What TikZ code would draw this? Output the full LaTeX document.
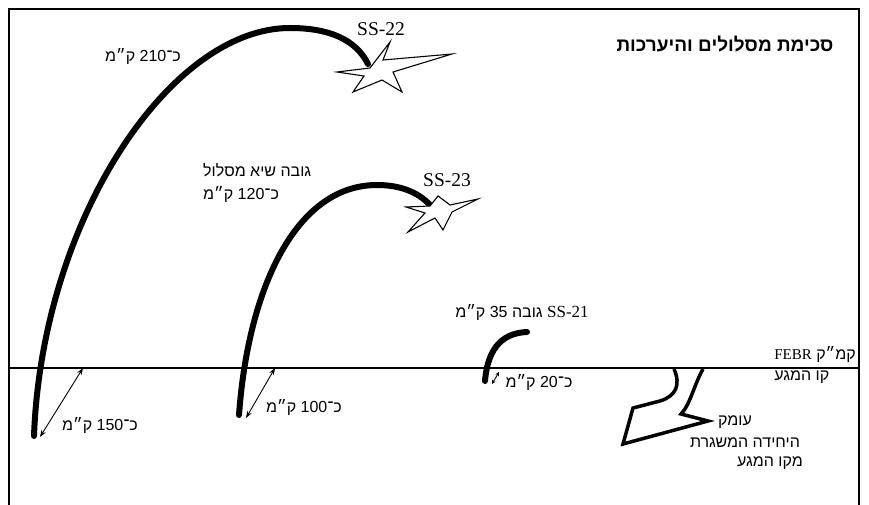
\documentclass[tikz,border=0pt]{standalone}
\usepackage{fontspec}
\setmainfont{Liberation Serif}
\newfontfamily\hebr[Script=Hebrew]{Liberation Sans}
\TeXXeTstate=1
\usetikzlibrary{arrows.meta}

\tikzset{
  bahn/.style={line width=6pt, line cap=round},
  abstand/.style={{Stealth[length=7pt,width=5pt]}-{Stealth[length=7pt,width=5pt]}, line width=0.9pt},
  hebtext/.style={font=\hebr\fontsize{16}{18}\selectfont, inner sep=0pt},
  lattext/.style={font=\fontsize{19.5}{22}\selectfont, inner sep=0pt},
  stern/.style={line width=1.1pt, fill=white},
}

\begin{document}
\begin{tikzpicture}[x=1pt,y=-1pt]
	\useasboundingbox (0,0) rectangle (869,505);
	
	% ----- Rahmen -----
	\draw[line width=1.5pt] (9,505) -- (9,9) -- (859,9) -- (859,505);
	
	% Kontaktlinie
	\coordinate (linie links) at (9,368);
	\coordinate (linie rechts) at (859,368);
	\draw[line width=1.3pt] (linie links) -- (linie rechts);
	
	% Titel
	\node[hebtext, font=\hebr\bfseries\fontsize{19}{21}\selectfont] (titel) at (725,44) {\beginR סכימת מסלולים והיערכות\endR};
	
	% ----- SS-22 -----
	\coordinate (s22 start) at (34,436);
	\coordinate (s22 ende) at (368,64);
	\draw[bahn] (s22 start) .. controls (42,220) and (170,28) .. (290,28) .. controls (330,28) and (356,40) .. (s22 ende);
	\draw[stern] (390,42) -- (383,60) -- (452,54) -- (393,72) -- (402,92) -- (382,80) -- (353,92) -- (364,76) -- (337,72) -- (370,68) -- cycle;
	\node[lattext] (ss22) at (381,29) {SS-22};
	\node[hebtext] (hoehe22) at (143,57) {\beginR כ־210 ק״מ\endR};
	
	% Abstand 150
	\coordinate (a150 unten) at (40,437);
	\coordinate (a150 oben) at (83,368);
	\draw[abstand] (a150 unten) -- (a150 oben);
	\node[hebtext] (weite150) at (100,425) {\beginR כ־150 ק״מ\endR};
	
	% ----- SS-23 -----
	\coordinate (s23 start) at (239,415);
	\coordinate (s23 ende) at (430,205);
	\draw[bahn] (s23 start) .. controls (248,290) and (295,185) .. (377,185) .. controls (400,185) and (418,192) .. (s23 ende);
	\draw[stern] (438,196) -- (450,205) -- (478,199) -- (452,212) -- (443,230) -- (435,218) -- (408,232) -- (425,213) -- (406,207) -- (430,206) -- cycle;
	\node[lattext] (ss23) at (447,180) {SS-23};
	\node[hebtext, anchor=west] (scheitel) at (203,170) {\beginR גובה שיא מסלול\endR};
	\node[hebtext, anchor=west] (hoehe23) at (203,195) {\beginR כ־120 ק״מ\endR};
	
	% Abstand 100
	\coordinate (a100 unten) at (246,418);
	\coordinate (a100 oben) at (275,368);
	\draw[abstand] (a100 unten) -- (a100 oben);
	\node[hebtext] (weite100) at (304,407) {\beginR כ־100 ק״מ\endR};
	
	% ----- SS-21 -----
	\coordinate (s21 start) at (485,381);
	\coordinate (s21 ende) at (527,332);
	\draw[bahn] (s21 start) .. controls (488,345) and (505,333) .. (s21 ende);
	\node[hebtext] (ss21) at (522,312) {\beginR\beginL{\rmfamily\fontsize{17}{19}\selectfont SS-21}\endL{} גובה 35 ק״מ\endR};
	
	% Abstand 20
	\coordinate (a20 unten) at (492,384);
	\coordinate (a20 oben) at (499,372);
	\draw[{Stealth[length=4pt,width=4pt]}-{Stealth[length=4pt,width=4pt]}, line width=0.9pt] (a20 unten) -- (a20 oben);
	\node[hebtext] (weite20) at (539,382) {\beginR כ־20 ק״מ\endR};
	
	% ----- Linien rechts -----
	\node[hebtext, anchor=east] (febr) at (856,354) {\beginR קמ״ק \beginL{\rmfamily\fontsize{15}{17}\selectfont FEBR}\endL\endR};
	\node[hebtext, anchor=west] (kontakt) at (febr.west |- 0,377) {\beginR קו המגע\endR};
	
	% ----- Tiefenpfeil -----
	\draw[line width=3.5pt, line join=miter] (674,369) .. controls (681,385) and (676,396) .. (660,401) -- (633,408) -- (623,444) -- (708,421) -- (681,414) .. controls (690,405) and (694,385) .. (703,369);
	\node[hebtext] (tiefe) at (735,422) {\beginR עומק\endR};
	\node[hebtext] (einheit) at (745,443) {\beginR היחידה המשגרת\endR};
	\node[hebtext] (abkontakt) at (770,463) {\beginR מקו המגע\endR};
	
\end{tikzpicture}
\end{document}
